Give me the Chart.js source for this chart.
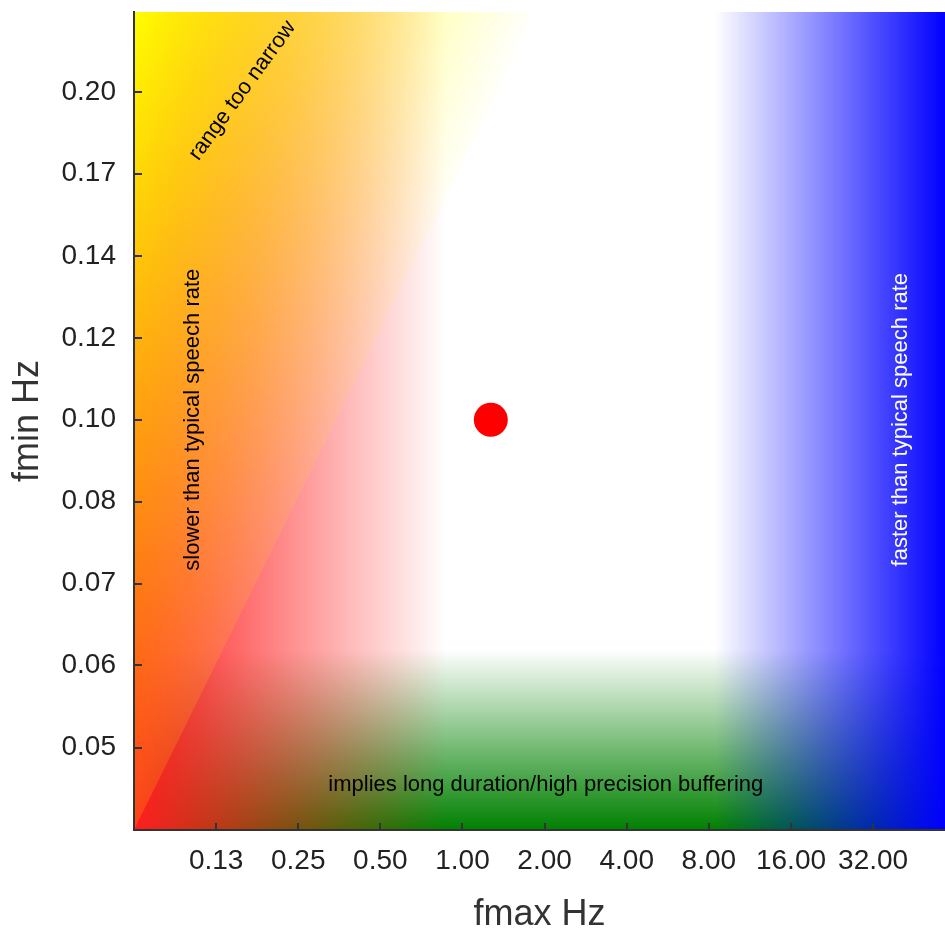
<!DOCTYPE html>
<html>
<head>
<meta charset="utf-8">
<title>fmin / fmax</title>
<script src="https://cdn.jsdelivr.net/npm/chart.js@4.4.1/dist/chart.umd.min.js"></script>
<style>
    html, body { margin: 0; padding: 0; background: #fff; }
    #wrap { width: 945px; height: 937px; }
</style>
</head>
<body>
<div id="wrap"><canvas id="chart" width="945" height="937"></canvas></div>
<script>
// Axis ticks (Hz), log2 spaced
const xTickValues = [0.125, 0.25, 0.5, 1, 2, 4, 8, 16, 32];
const yTickValues = [0.05, 0.0595, 0.0707, 0.0841, 0.1, 0.1189, 0.1414, 0.1682, 0.2];
const xRange = [0.0625, 58.7];
const yRange = [0.042, 0.2368];

// The chosen setting
const fmaxValues = [1.27];
const fminValues = [0.1];

// Region limits (Hz)
const slowLimit = 0.87;       // slow band fades out here (fmax)
const fastLimit = 8.4;        // fast band starts here (fmax)
const bufferLimit = 0.0615;   // buffering band fades out here (fmin)
const narrowLimitTop = 1.88;  // "range too narrow" edge at the top of the plot (fmax)

// Region notes: text, fmax, fmin, angle (deg), colour
const noteTexts = ['range too narrow', 'slower than typical speech rate', 'faster than typical speech rate', 'implies long duration/high precision buffering'];
const noteX = [0.156, 0.103, 40.5, 2.02];
const noteY = [0.2005, 0.1, 0.1, 0.0462];
const noteAngle = [-54, -90, -90, 0];
const noteColor = ['#000', '#000', '#fff', '#000'];

const FONT = "'Liberation Sans', Arial, Helvetica, sans-serif";

// Coloured background regions
const regionsPlugin = {
    id: 'regions',
    beforeDraw(chart) {
        const { ctx, chartArea: a, scales: { x, y } } = chart;
        const w = a.right - a.left;
        const h = a.bottom - a.top;
        ctx.save();
        ctx.beginPath();
        ctx.rect(a.left, a.top, w, h);
        ctx.clip();

        // buffering band (bottom, green)
        const gTop = y.getPixelForValue(bufferLimit);
        let g = ctx.createLinearGradient(0, gTop, 0, a.bottom);
        g.addColorStop(0, 'rgba(0,128,0,0)');
        g.addColorStop(1, 'rgba(0,128,0,1)');
        ctx.fillStyle = g;
        ctx.fillRect(a.left, gTop, w, a.bottom - gTop);

        // slow band (left, red)
        const sEnd = x.getPixelForValue(slowLimit);
        g = ctx.createLinearGradient(a.left, 0, sEnd, 0);
        g.addColorStop(0, 'rgba(255,30,30,1)');
        g.addColorStop(1, 'rgba(255,30,30,0)');
        ctx.fillStyle = g;
        ctx.fillRect(a.left, a.top, sEnd - a.left, h);

        // range too narrow (upper-left triangle, yellow)
        // opacity 1 at the top-left corner, 0 at the top vertex, 0.16 at the bottom vertex
        const p1x = x.getPixelForValue(narrowLimitTop);
        const ax = 1 / (p1x - a.left);
        const ay = 0.84 / h;
        const n2 = ax * ax + ay * ay;
        g = ctx.createLinearGradient(a.left, a.top, a.left + ax / n2, a.top + ay / n2);
        g.addColorStop(0, 'rgba(255,255,0,1)');
        g.addColorStop(1, 'rgba(255,255,0,0)');
        ctx.fillStyle = g;
        ctx.beginPath();
        ctx.moveTo(a.left, a.bottom);
        ctx.lineTo(p1x, a.top);
        ctx.lineTo(a.left, a.top);
        ctx.closePath();
        ctx.fill();

        // fast band (right, blue)
        const bStart = x.getPixelForValue(fastLimit);
        g = ctx.createLinearGradient(bStart, 0, a.right, 0);
        g.addColorStop(0, 'rgba(0,0,255,0)');
        g.addColorStop(1, 'rgba(0,0,255,1)');
        ctx.fillStyle = g;
        ctx.fillRect(bStart, a.top, a.right - bStart, h);

        ctx.restore();
    }
};

// Inward tick marks + region notes
const overlayPlugin = {
    id: 'overlay',
    afterDraw(chart) {
        const { ctx, chartArea: a, scales: { x, y } } = chart;
        ctx.save();
        ctx.strokeStyle = '#333';
        ctx.lineWidth = 2;
        ctx.beginPath();
        xTickValues.forEach(v => {
            const px = Math.round(x.getPixelForValue(v));
            ctx.moveTo(px, a.bottom);
            ctx.lineTo(px, a.bottom - 7);
        });
        yTickValues.forEach(v => {
            const py = Math.round(y.getPixelForValue(v));
            ctx.moveTo(a.left, py);
            ctx.lineTo(a.left + 8, py);
        });
        ctx.stroke();

        ctx.font = '22px ' + FONT;
        ctx.textAlign = 'center';
        ctx.textBaseline = 'middle';
        noteTexts.forEach((txt, i) => {
            ctx.save();
            ctx.translate(x.getPixelForValue(noteX[i]), y.getPixelForValue(noteY[i]));
            ctx.rotate(noteAngle[i] * Math.PI / 180);
            ctx.fillStyle = noteColor[i];
            ctx.fillText(txt, 0, 0);
            ctx.restore();
        });
        ctx.restore();
    }
};

const ctx = document.getElementById('chart').getContext('2d');
new Chart(ctx, {
    type: 'scatter',
    data: {
        datasets: [{
            data: fmaxValues.map((v, i) => ({ x: v, y: fminValues[i] })),
            backgroundColor: '#ff0000',
            borderWidth: 0,
            pointRadius: 17,
            pointHoverRadius: 17
        }]
    },
    options: {
        responsive: false,
        animation: false,
        layout: {
            autoPadding: false,
            padding: { top: 12, right: 0, bottom: 0, left: 0 }
        },
        plugins: {
            legend: { display: false },
            tooltip: { enabled: false }
        },
        scales: {
            x: {
                type: 'logarithmic',
                min: xRange[0],
                max: xRange[1],
                afterBuildTicks: s => { s.ticks = xTickValues.map(v => ({ value: v })); },
                afterFit: s => {
                    s.height = 107;
                    s.paddingLeft = 0;
                    s.paddingRight = 0;
                },
                grid: { display: false, drawTicks: false },
                border: { display: true, color: '#333', width: 2 },
                ticks: {
                    autoSkip: false,
                    maxRotation: 0,
                    padding: 14,
                    color: '#222',
                    font: { family: FONT, size: 28 },
                    callback: v => Number(v).toFixed(2)
                },
                title: {
                    display: true,
                    text: 'fmax Hz',
                    color: '#333',
                    font: { family: FONT, size: 36 },
                    padding: 0
                }
            },
            y: {
                type: 'logarithmic',
                min: yRange[0],
                max: yRange[1],
                afterBuildTicks: s => { s.ticks = yTickValues.map(v => ({ value: v })); },
                afterFit: s => {
                    s.width = 134;
                    s.paddingTop = 0;
                    s.paddingBottom = 0;
                },
                grid: { display: false, drawTicks: false },
                border: { display: true, color: '#333', width: 2 },
                ticks: {
                    autoSkip: false,
                    padding: 18,
                    color: '#222',
                    font: { family: FONT, size: 28 },
                    callback: v => Number(v).toFixed(2)
                },
                title: {
                    display: true,
                    text: 'fmin Hz',
                    color: '#333',
                    font: { family: FONT, size: 36 },
                    padding: { top: 6, bottom: 0 }
                }
            }
        }
    },
    plugins: [regionsPlugin, overlayPlugin]
});
</script>
</body>
</html>
